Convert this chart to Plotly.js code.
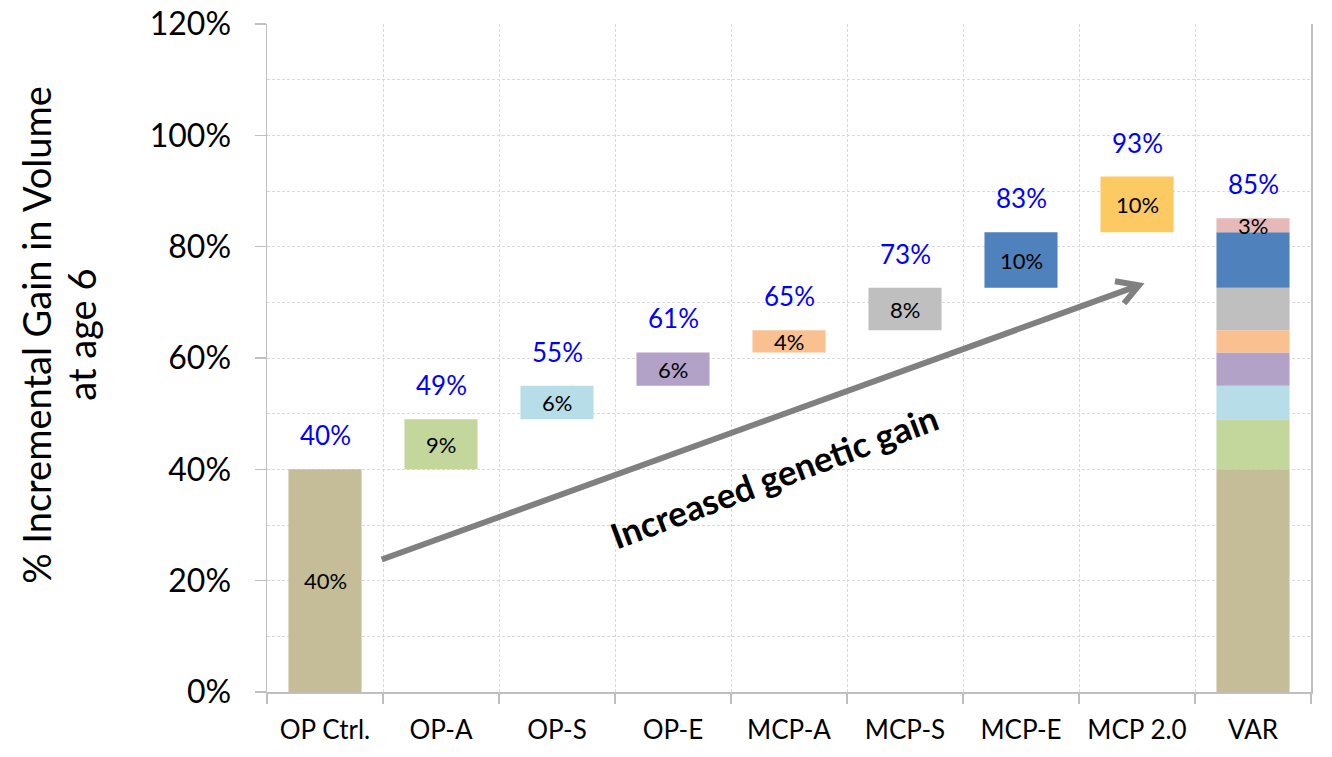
<!DOCTYPE html>
<html>
<head>
<meta charset="utf-8">
<script src="https://cdn.plot.ly/plotly-3.0.1.min.js"></script>
<style>
  html, body { margin: 0; padding: 0; background: #ffffff; }
  #chart { width: 1332px; height: 757px; }
</style>
</head>
<body>
<div id="chart"></div>
<script>
// Step categories of the breeding programme and the gain each step adds
const categories = ['OP Ctrl.', 'OP-A', 'OP-S', 'OP-E', 'MCP-A', 'MCP-S', 'MCP-E', 'MCP 2.0'];
const gains = [40, 9, 6, 6, 4, 7.6, 10, 10];
const stepColors = ['#C4BD97', '#C3D69B', '#B7DEE8', '#B3A2C7', '#FAC090', '#BFBFBF', '#4F81BD', '#FDC962'];

// Varietal column: stacks the steps up to MCP-E plus its own extra gain
const varCategory = 'VAR';
const varSteps = 7;               // number of steps stacked in the VAR column
const varExtra = 2.5;
const varExtraColor = '#E6B9B8';

const allCategories = categories.concat([varCategory]);
const FONT = 'Lato, "Open Sans", sans-serif';
const BAR_WIDTH = 0.63;

const pct = v => Math.round(v) + '%';

const traces = [];
const annotations = [];
let base = 0;
categories.forEach((cat, i) => {
  const inVar = i < varSteps;
  traces.push({
    type: 'bar',
    x: inVar ? [cat, varCategory] : [cat],
    y: inVar ? [gains[i], gains[i]] : [gains[i]],
    base: inVar ? [base, base] : [base],
    width: BAR_WIDTH,
    marker: { color: stepColors[i], line: { width: 0 } },
    hoverinfo: 'skip',
    showlegend: false
  });
  // increment label inside the bar
  annotations.push({
    x: cat, y: base + gains[i] / 2, xref: 'x', yref: 'y',
    text: pct(gains[i]), showarrow: false,
    font: { family: FONT, size: 22, color: '#000000' },
    xanchor: 'center', yanchor: 'middle'
  });
  base += gains[i];
  // cumulative total above the bar
  annotations.push({
    x: cat, y: base, xref: 'x', yref: 'y', yshift: 34,
    text: pct(base), showarrow: false,
    font: { family: FONT, size: 26, color: '#0000FF' },
    xanchor: 'center', yanchor: 'middle'
  });
});

// VAR column extra segment and total
const varBase = gains.slice(0, varSteps).reduce((a, b) => a + b, 0);
traces.push({
  type: 'bar',
  x: [varCategory], y: [varExtra], base: [varBase],
  width: BAR_WIDTH,
  marker: { color: varExtraColor, line: { width: 0 } },
  hoverinfo: 'skip', showlegend: false
});
annotations.push({
  x: varCategory, y: varBase + varExtra / 2, xref: 'x', yref: 'y',
  text: pct(varExtra), showarrow: false,
  font: { family: FONT, size: 22, color: '#000000' },
  xanchor: 'center', yanchor: 'middle'
});
annotations.push({
  x: varCategory, y: varBase + varExtra, xref: 'x', yref: 'y', yshift: 34,
  text: pct(varBase + varExtra), showarrow: false,
  font: { family: FONT, size: 26, color: '#0000FF' },
  xanchor: 'center', yanchor: 'middle'
});

// axis title, one annotation per line
const titleLines = ['% Incremental Gain in Volume', 'at age 6'];
const titleX = [-0.222, -0.179];
titleLines.forEach((line, k) => {
  annotations.push({
    xref: 'paper', yref: 'paper', x: titleX[k], y: 0.535,
    text: line, textangle: -90, showarrow: false,
    font: { family: FONT, size: 38, color: '#000000' },
    xanchor: 'center', yanchor: 'middle'
  });
});

// trend caption
annotations.push({
  x: 3.87, y: 38.8, xref: 'x', yref: 'y',
  text: '<b>Increased genetic gain</b>', textangle: -20.5, showarrow: false,
  font: { family: FONT, size: 35, color: '#000000' },
  xanchor: 'center', yanchor: 'middle'
});

// trend arrow, drawn in paper fractions of the plot area
const Y_MAX = 120;
const nCat = allCategories.length;
const px = idx => (idx + 0.5) / nCat;
const py = v => v / Y_MAX;
const tail = [0.489, 23.8], tip = [7.017, 73.04];
const armA = [6.81, 73.8], armB = [6.888, 69.8];
const P = p => px(p[0]).toFixed(5) + ',' + py(p[1]).toFixed(5);
const shapes = [
  {
    type: 'path', xref: 'paper', yref: 'paper',
    path: 'M' + P(tail) + ' L' + P(tip),
    line: { color: '#808080', width: 6 }
  },
  {
    type: 'path', xref: 'paper', yref: 'paper',
    path: 'M' + P(armA) + ' L' + P(tip) + ' L' + P(armB),
    line: { color: '#808080', width: 6 }
  }
];

const layout = {
  width: 1332, height: 757, autosize: false,
  margin: { l: 267, r: 21, t: 24, b: 65, pad: 0 },
  paper_bgcolor: '#ffffff', plot_bgcolor: '#ffffff',
  barmode: 'overlay',
  showlegend: false,
  font: { family: FONT, color: '#000000' },
  xaxis: {
    type: 'category',
    categoryorder: 'array', categoryarray: allCategories,
    range: [-0.5, nCat - 0.5],
    tickson: 'boundaries',
    ticks: 'outside', ticklen: 10, tickcolor: '#BFBFBF', tickwidth: 1.5,
    showline: true, linecolor: '#BFBFBF', linewidth: 1.5,
    showgrid: true, gridcolor: '#D9D9D9', gridwidth: 1, griddash: '3px,2px',
    zeroline: false,
    tickfont: { family: FONT, size: 26, color: '#000000' },
    ticklabelstandoff: 14,
    fixedrange: true
  },
  yaxis: {
    range: [0, Y_MAX], dtick: 20,
    ticksuffix: '%',
    ticks: 'outside', ticklen: 11, tickcolor: '#BFBFBF', tickwidth: 1.5,
    showline: true, linecolor: '#BFBFBF', linewidth: 1.5, mirror: true,
    showgrid: true, gridcolor: '#D9D9D9', gridwidth: 1, griddash: '3px,2px',
    minor: { dtick: 10, showgrid: true, gridcolor: '#D9D9D9', gridwidth: 1, griddash: '3px,2px', ticks: '' },
    zeroline: false,
    tickfont: { family: FONT, size: 32, color: '#000000' },
    ticklabelstandoff: 17,
    fixedrange: true
  },
  annotations: annotations,
  shapes: shapes
};

Plotly.newPlot('chart', traces, layout, { displayModeBar: false, staticPlot: true });
</script>
</body>
</html>
